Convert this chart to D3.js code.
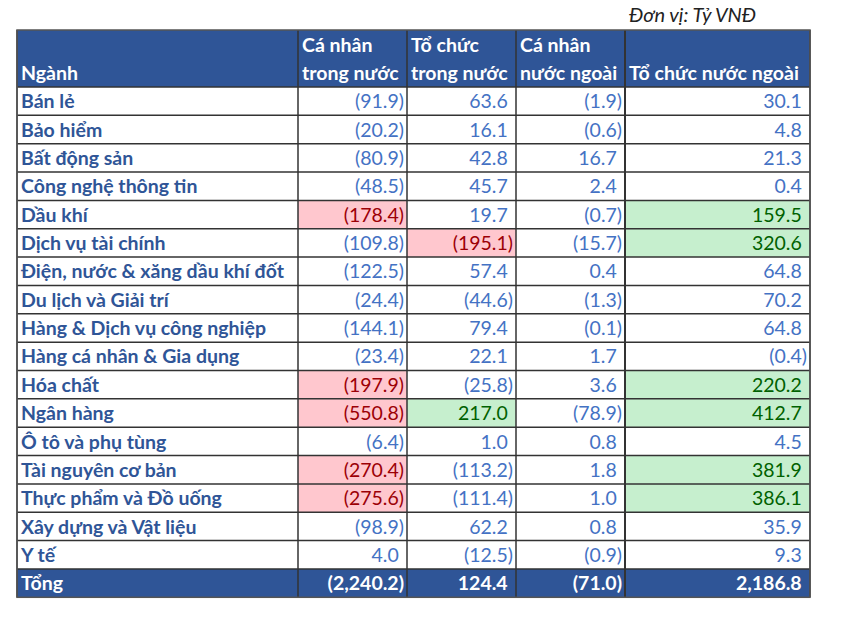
<!DOCTYPE html>
<html>
<head>
<meta charset="utf-8">
<script src="https://cdn.jsdelivr.net/npm/d3@7"></script>
<style>
  body { margin: 0; background: #fff; }
  svg text { font-family: Lato, "Open Sans", sans-serif; }
</style>
</head>
<body>
<div id="table"></div>
<script>
// Data
var unitLabel = "Đơn vị: Tỷ VNĐ";
var headerLine1 = ["", "Cá nhân", "Tổ chức", "Cá nhân", ""];
var headerLine2 = ["Ngành", "trong nước", "trong nước", "nước ngoài", "Tổ chức nước ngoài"];

var sectors = ["Bán lẻ", "Bảo hiểm", "Bất động sản", "Công nghệ thông tin", "Dầu khí",
  "Dịch vụ tài chính", "Điện, nước & xăng dầu khí đốt", "Du lịch và Giải trí",
  "Hàng & Dịch vụ công nghiệp", "Hàng cá nhân & Gia dụng", "Hóa chất", "Ngân hàng",
  "Ô tô và phụ tùng", "Tài nguyên cơ bản", "Thực phẩm và Đồ uống",
  "Xây dựng và Vật liệu", "Y tế"];

var caNhanTrongNuoc = [-91.9, -20.2, -80.9, -48.5, -178.4, -109.8, -122.5, -24.4, -144.1, -23.4, -197.9, -550.8, -6.4, -270.4, -275.6, -98.9, 4.0];
var toChucTrongNuoc = [63.6, 16.1, 42.8, 45.7, 19.7, -195.1, 57.4, -44.6, 79.4, 22.1, -25.8, 217.0, 1.0, -113.2, -111.4, 62.2, -12.5];
var caNhanNuocNgoai = [-1.9, -0.6, 16.7, 2.4, -0.7, -15.7, 0.4, -1.3, -0.1, 1.7, 3.6, -78.9, 0.8, 1.8, 1.0, 0.8, -0.9];
var toChucNuocNgoai = [30.1, 4.8, 21.3, 0.4, 159.5, 320.6, 64.8, 70.2, 64.8, -0.4, 220.2, 412.7, 4.5, 381.9, 386.1, 35.9, 9.3];

var totalLabel = "Tổng";
var totals = [-2240.2, 124.4, -71.0, 2186.8];

// highlighted cells: [row, column(1-4), "red"|"green"]
var highlights = [
  [4, 1, "red"], [4, 4, "green"],
  [5, 2, "red"], [5, 4, "green"],
  [10, 1, "red"], [10, 4, "green"],
  [11, 1, "red"], [11, 2, "green"], [11, 4, "green"],
  [13, 1, "red"], [13, 4, "green"],
  [14, 1, "red"], [14, 4, "green"]
];

var svgWidth = 866, svgHeight = 626;
var tblLeft = 17, tblTop = 30, headerH = 57, rowH = 28.35;
var colEdges = [17, 298, 407, 516, 625, 810];
var fontSize = 19.5;

var headBlue = "#2F5597", labelBlue = "#2F5597", numBlue = "#4472C4";
var fills = { red: "#FFC7CE", green: "#C6EFCE" };
var textFills = { red: "#9C0006", green: "#006100" };

var svg = d3.select("#table").append("svg")
  .attr("width", svgWidth)
  .attr("height", svgHeight);

var fmt = d3.format(",.1f");
function fmtVal(v) { return v < 0 ? "(" + fmt(-v) + ")" : fmt(v); }

var series = [caNhanTrongNuoc, toChucTrongNuoc, caNhanNuocNgoai, toChucNuocNgoai];
var rows = sectors.map(function(s, i) {
  return { label: s, values: series.map(function(arr) { return arr[i]; }), total: false };
});
rows.push({ label: totalLabel, values: totals, total: true });

var y = d3.scaleBand()
  .domain(d3.range(rows.length))
  .range([tblTop + headerH, tblTop + headerH + rowH * rows.length]);

var hlMap = {};
highlights.forEach(function(h) { hlMap[h[0] + "_" + h[1]] = h[2]; });

// unit label
svg.append("text")
  .attr("x", 629).attr("y", 22)
  .attr("font-size", 20)
  .attr("font-style", "italic")
  .attr("fill", "#222")
  .text(unitLabel);

// header
svg.append("rect")
  .attr("x", tblLeft).attr("y", tblTop)
  .attr("width", colEdges[5] - tblLeft).attr("height", headerH)
  .attr("fill", headBlue);

colEdges.slice(0, 5).forEach(function(x0, c) {
  svg.append("text")
    .attr("x", x0 + 4).attr("y", tblTop + 22)
    .attr("font-size", fontSize).attr("font-weight", "bold").attr("fill", "#fff")
    .text(headerLine1[c]);
  svg.append("text")
    .attr("x", x0 + 4).attr("y", tblTop + 50)
    .attr("font-size", fontSize).attr("font-weight", "bold").attr("fill", "#fff")
    .text(headerLine2[c]);
});

// rows
var rowG = svg.selectAll("g.row")
  .data(rows)
  .enter().append("g")
  .attr("class", "row")
  .attr("transform", function(d, i) { return "translate(0," + y(i) + ")"; });

rowG.filter(function(d) { return d.total; })
  .append("rect")
  .attr("x", tblLeft).attr("width", colEdges[5] - tblLeft)
  .attr("height", y.bandwidth())
  .attr("fill", headBlue);

rowG.each(function(d, i) {
  var g = d3.select(this);
  d.values.forEach(function(v, k) {
    var hl = hlMap[i + "_" + (k + 1)];
    if (hl) {
      g.append("rect")
        .attr("x", colEdges[k + 1]).attr("width", colEdges[k + 2] - colEdges[k + 1])
        .attr("height", y.bandwidth())
        .attr("fill", fills[hl]);
    }
    var t = g.append("text")
      .attr("x", colEdges[k + 2] - 3)
      .attr("y", y.bandwidth() - 7)
      .attr("text-anchor", "end")
      .attr("font-size", fontSize)
      .attr("font-weight", d.total ? "bold" : "normal")
      .attr("fill", d.total ? "#fff" : (hl ? textFills[hl] : numBlue));
    t.append("tspan").text(fmtVal(v));
    if (v >= 0) t.append("tspan").attr("fill-opacity", 0).text(")");
  });
  g.append("text")
    .attr("x", tblLeft + 4)
    .attr("y", y.bandwidth() - 7)
    .attr("font-size", fontSize)
    .attr("font-weight", "bold")
    .attr("fill", d.total ? "#fff" : labelBlue)
    .text(d.label);
});

// grid lines
var tblBottom = y.range()[1];
y.domain().forEach(function(i) {
  svg.append("line")
    .attr("x1", tblLeft).attr("x2", colEdges[5])
    .attr("y1", y(i)).attr("y2", y(i))
    .attr("stroke", "#333").attr("stroke-width", 1.5);
});
colEdges.forEach(function(x, c) {
  svg.append("line")
    .attr("x1", x).attr("x2", x)
    .attr("y1", tblTop).attr("y2", tblBottom)
    .attr("stroke", "#333").attr("stroke-width", c === 4 ? 2 : 1.5);
});
svg.append("rect")
  .attr("x", tblLeft).attr("y", tblTop)
  .attr("width", colEdges[5] - tblLeft).attr("height", tblBottom - tblTop)
  .attr("fill", "none")
  .attr("stroke", "#555").attr("stroke-width", 1.5);
</script>
</body>
</html>
